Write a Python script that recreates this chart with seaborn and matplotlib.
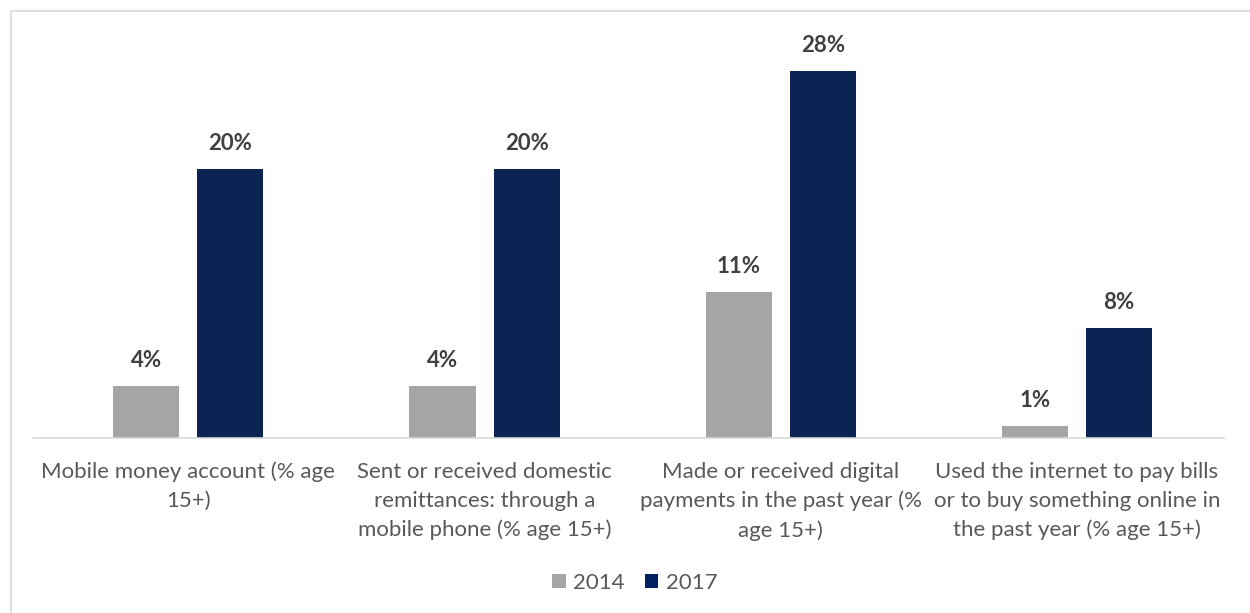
import matplotlib
matplotlib.use("Agg")
import matplotlib.pyplot as plt
from matplotlib.patches import Patch, Rectangle
import seaborn as sns
import pandas as pd

# Categories (line breaks as shown under the axis)
categories = [
    "Mobile money account (% age\n15+)",
    "Sent or received domestic\nremittances: through a\nmobile phone (% age 15+)",
    "Made or received digital\npayments in the past year (%\nage 15+)",
    "Used the internet to pay bills\nor to buy something online in\nthe past year (% age 15+)",
]
years = ["2014", "2017"]
values_2014 = [3.9, 3.9, 11.0, 0.9]
values_2017 = [20.3, 20.3, 27.7, 8.3]

colors = {"2014": "#A5A5A5", "2017": "#002060"}
text_grey = "#595959"
label_grey = "#404040"

df = pd.DataFrame({
    "category": categories * 2,
    "year": ["2014"] * len(categories) + ["2017"] * len(categories),
    "value": values_2014 + values_2017,
})

sns.set_theme(style="white")
plt.rcParams["font.family"] = ["Lato", "DejaVu Sans"]

W, H = 1250, 613
fig = plt.figure(figsize=(W / 100, H / 100), dpi=100)

# outer chart frame
fig.patches.append(Rectangle((11 / W, -0.1), 1.2, 1 - 11 / H + 0.1,
                             transform=fig.transFigure, fill=False,
                             edgecolor="#D9D9D9", linewidth=1.2, zorder=0))

ax_left, ax_right = 33, 1224
ax_bottom, ax_top = 438, 30
ax = fig.add_axes([ax_left / W, (H - ax_bottom) / H,
                   (ax_right - ax_left) / W, (ax_bottom - ax_top) / H])

sns.barplot(data=df, x="category", y="value", hue="year", order=categories,
            hue_order=years, palette=colors, width=0.568, gap=0.214,
            errorbar=None, linewidth=0, legend=False, ax=ax)

ax.set_xlim(-0.524, 3.496)
ax.set_ylim(0, (ax_bottom - ax_top) / 13.25)

for cont in ax.containers:
    ax.bar_label(cont, fmt="{:.0f}%", padding=11, fontsize=16,
                 fontweight="bold", color=label_grey)

ax.set_xlabel("")
ax.set_ylabel("")
ax.set_yticks([])
ax.set_xticks(range(len(categories)), labels=categories, linespacing=1.56)
ax.tick_params(axis="x", length=0, pad=17, labelsize=16, labelcolor=text_grey)
for s in ["top", "right", "left"]:
    ax.spines[s].set_visible(False)
ax.spines["bottom"].set_color("#D9D9D9")
ax.spines["bottom"].set_linewidth(1.2)

handles = [Patch(facecolor=colors[y], edgecolor="none", label=y) for y in years]
fig.legend(handles=handles, loc="center", bbox_to_anchor=(0.508, 30 / H),
           ncol=2, frameon=False, fontsize=16, labelcolor=text_grey,
           handlelength=0.6, handleheight=0.6, handletextpad=0.35,
           columnspacing=0.9)

fig.savefig("out.png", dpi=100, facecolor="white")
